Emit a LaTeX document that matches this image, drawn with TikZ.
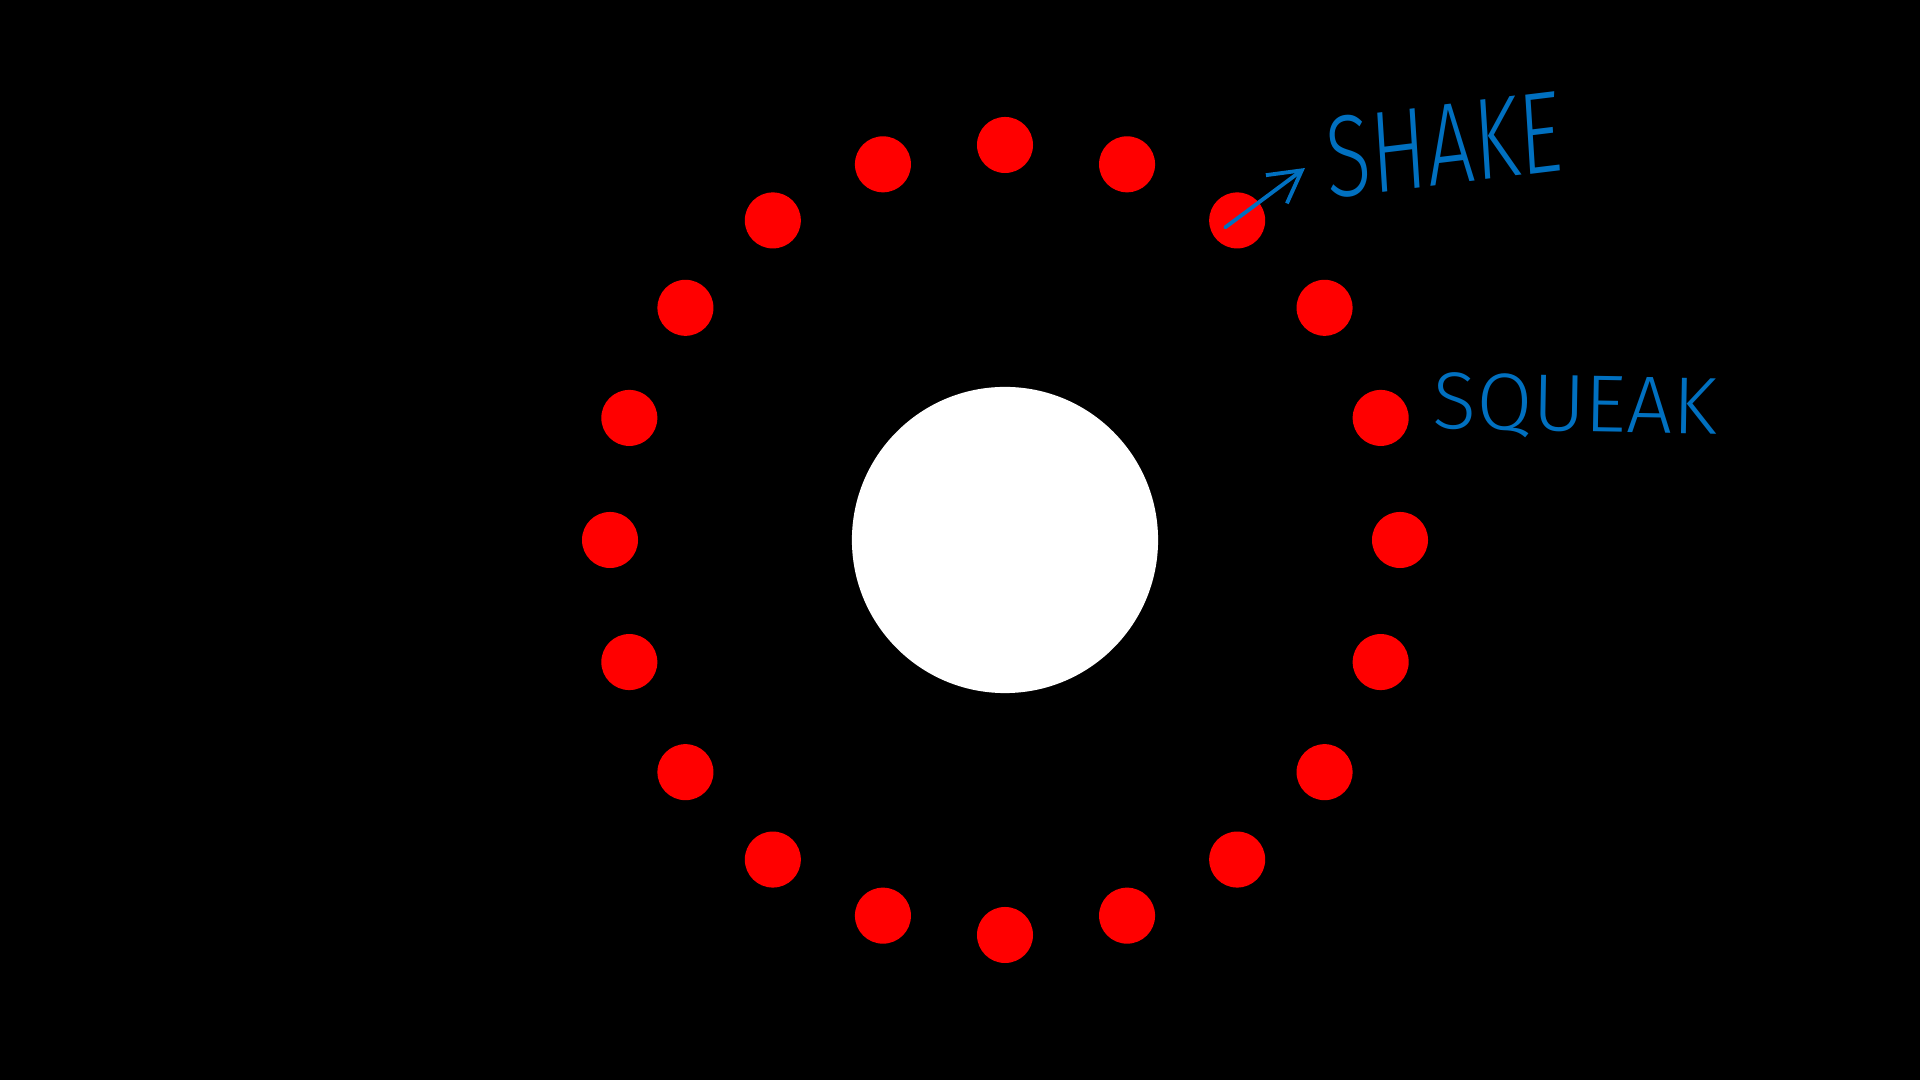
\documentclass[tikz,border=0pt]{standalone}
\usepackage{fontspec}
\newfontfamily\hand{Fira Sans Light}
\usetikzlibrary{arrows.meta,calc}
\definecolor{penblue}{RGB}{0,112,192}
\definecolor{dotred}{RGB}{255,0,0}
\tikzset{
  dot/.style={circle,fill=dotred,inner sep=0pt,minimum size=0.56cm},
  hub/.style={circle,fill=white,inner sep=0pt,minimum size=3.06cm},
  handtext/.style={text=penblue,font=\hand,inner sep=0pt},
  pen/.style={draw=penblue,line width=1.1pt,line cap=round}
}
\begin{document}
\begin{tikzpicture}[x=0.01cm,y=-0.01cm]
\fill[black] (0,0) rectangle (1920,1080);
\useasboundingbox (0,0) rectangle (1920,1080);
\node[hub] (hub) at (1005,540) {};
\foreach \i in {0,...,19}{
  \pgfmathsetmacro{\a}{18*\i}
  \node[dot] (d\i) at ({1005+395*sin(\a)},{540-395*cos(\a)}) {};
}
\node[handtext,font=\hand\fontsize{33}{33}\selectfont,xscale=0.72,rotate=5] (shake) at (1444,145) {SHAKE};
\node[handtext,font=\hand\fontsize{23}{23}\selectfont,rotate=-1] (squeak) at (1575,407) {SQUEAK};
\coordinate (arrowstart) at ($(d2.center)+(-12,7)$);
\draw[pen,-{Straight Barb[length=9pt,width=10pt]}] (arrowstart) -- (1305,168);
\end{tikzpicture}
\end{document}
